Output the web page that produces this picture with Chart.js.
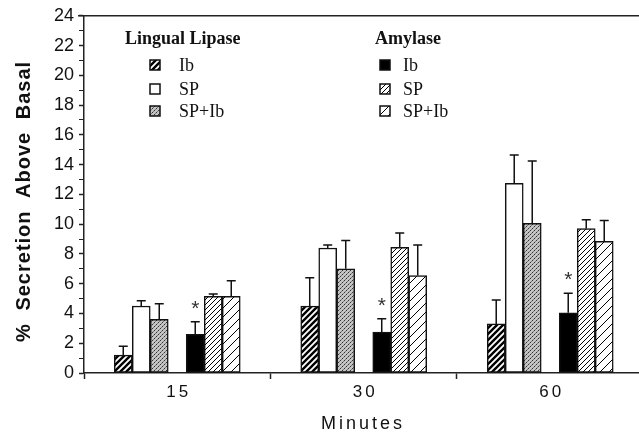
<!DOCTYPE html>
<html>
<head>
<meta charset="utf-8">
<script src="https://cdn.jsdelivr.net/npm/chart.js@4"></script>
<style>
  html, body { margin: 0; padding: 0; background: #fff; }
  canvas { display: block; }
</style>
</head>
<body>
<canvas id="chart" width="639" height="435"></canvas>
<script>
// categories (x) and series
const minutes = ['15', '30', '60'];

const lipaseIb = [1.2, 4.5, 3.3];
const lipaseIbErr = [0.6, 1.9, 1.6];
const lipaseSP = [4.5, 8.4, 12.75];
const lipaseSPErr = [0.35, 0.2, 1.9];
const lipaseSPIb = [3.6, 7.0, 10.05];
const lipaseSPIbErr = [1.05, 1.9, 4.2];

const amylaseIb = [2.6, 2.75, 4.05];
const amylaseIbErr = [0.85, 0.9, 1.3];
const amylaseIbStar = [true, true, true];
const amylaseSP = [5.15, 8.45, 9.7];
const amylaseSPErr = [0.15, 0.95, 0.6];
const amylaseSPIb = [5.15, 6.55, 8.85];
const amylaseSPIbErr = [1.05, 2.05, 1.4];

const yMin = 0, yMax = 24;
const xTitle = 'Minutes';
const yTitle = '% Secretion Above Basal';

const canvas = document.getElementById('chart');
const ctx = canvas.getContext('2d');
const sans = '"Liberation Sans", Arial, sans-serif';
const serif = '"Liberation Serif", "Times New Roman", serif';

// fill patterns
function hatch(size, width) {
  const c = document.createElement('canvas');
  c.width = c.height = size;
  const g = c.getContext('2d');
  g.fillStyle = '#fff';
  g.fillRect(0, 0, size, size);
  g.strokeStyle = '#000';
  g.lineWidth = width;
  g.beginPath();
  g.moveTo(0, size); g.lineTo(size, 0);
  g.moveTo(-size / 2, size / 2); g.lineTo(size / 2, -size / 2);
  g.moveTo(size / 2, size * 1.5); g.lineTo(size * 1.5, size / 2);
  g.stroke();
  return ctx.createPattern(c, 'repeat');
}

function stipple() {
  const c = document.createElement('canvas');
  c.width = c.height = 4;
  const g = c.getContext('2d');
  g.fillStyle = '#c4c4c4';
  g.fillRect(0, 0, 4, 4);
  g.fillStyle = '#333';
  g.fillRect(0, 0, 1, 1);
  g.fillRect(2, 2, 1, 1);
  g.fillStyle = '#7a7a7a';
  g.fillRect(1, 3, 1, 1);
  g.fillRect(3, 1, 1, 1);
  return ctx.createPattern(c, 'repeat');
}

function series(label, group, values, errors, fill, stars) {
  return {
    label: label,
    group: group,
    data: values.map((v, i) => ({ x: i, y: v })),
    errors: errors,
    stars: stars,
    backgroundColor: fill,
    borderColor: '#111',
    borderWidth: 1.5,
    borderSkipped: false,
    barThickness: 18
  };
}

const datasets = [
  series('Ib', 'Lingual Lipase', lipaseIb, lipaseIbErr, hatch(6, 2.4)),
  series('SP', 'Lingual Lipase', lipaseSP, lipaseSPErr, '#fff'),
  series('SP+Ib', 'Lingual Lipase', lipaseSPIb, lipaseSPIbErr, stipple()),
  { label: '', data: minutes.map((m, i) => ({ x: i, y: null })), barThickness: 18 },
  series('Ib', 'Amylase', amylaseIb, amylaseIbErr, '#000', amylaseIbStar),
  series('SP', 'Amylase', amylaseSP, amylaseSPErr, hatch(5, 1)),
  series('SP+Ib', 'Amylase', amylaseSPIb, amylaseSPIbErr, hatch(9, 1))
];

const extras = {
  id: 'extras',
  afterDatasetsDraw(chart) {
    const c = chart.ctx;
    const y = chart.scales.y;
    c.save();
    c.strokeStyle = '#111';
    c.lineWidth = 1.5;
    chart.data.datasets.forEach((ds, i) => {
      if (!ds.errors) return;
      chart.getDatasetMeta(i).data.forEach((bar, j) => {
        const top = y.getPixelForValue(ds.data[j].y + ds.errors[j]);
        c.beginPath();
        c.moveTo(bar.x, bar.y);
        c.lineTo(bar.x, top);
        c.moveTo(bar.x - 4.5, top);
        c.lineTo(bar.x + 4.5, top);
        c.stroke();
        if (ds.stars && ds.stars[j]) {
          c.fillStyle = '#333';
          c.font = '21px ' + sans;
          c.textAlign = 'center';
          c.textBaseline = 'alphabetic';
          c.fillText('*', bar.x, top - 7);
        }
      });
    });
    c.restore();
  },
  afterDraw(chart) {
    const c = chart.ctx;
    const area = chart.chartArea;
    const xs = chart.scales.x;
    c.save();
    c.strokeStyle = '#222';
    c.lineWidth = 1.5;
    c.beginPath();
    c.moveTo(area.left - 6, area.top);
    c.lineTo(chart.width, area.top);
    c.stroke();

    // spaced category labels and axis titles
    c.fillStyle = '#111';
    c.textAlign = 'center';
    c.letterSpacing = '3px';
    c.textBaseline = 'top';
    c.font = '17px ' + sans;
    minutes.forEach((m, i) => c.fillText(m, xs.getPixelForValue(i) + 1.5, area.bottom + 11));
    c.textBaseline = 'middle';
    c.font = '18px ' + sans;
    c.fillText(xTitle, (area.left + area.right) / 2 + 1.5, 424);

    c.save();
    c.translate(24, (area.top + area.bottom) / 2 + 7);
    c.rotate(-Math.PI / 2);
    c.letterSpacing = '1px';
    c.wordSpacing = '6px';
    c.font = 'bold 20px ' + sans;
    c.fillText(yTitle, 0, 0);
    c.restore();
    c.letterSpacing = '0px';

    // two-column legend with group headers
    const cols = [
      { group: 'Lingual Lipase', x: 125, box: 150, text: 179 },
      { group: 'Amylase', x: 375, box: 380, text: 403 }
    ];
    const rows = [65, 89, 111];
    cols.forEach(col => {
      c.fillStyle = '#111';
      c.textAlign = 'left';
      c.textBaseline = 'middle';
      c.font = 'bold 18px ' + serif;
      c.fillText(col.group, col.x, 39);
      c.font = '18px ' + serif;
      chart.data.datasets.filter(ds => ds.group === col.group).forEach((ds, k) => {
        const yy = rows[k];
        c.fillStyle = ds.backgroundColor;
        c.fillRect(col.box, yy - 5, 10, 10);
        c.strokeStyle = '#111';
        c.lineWidth = 1.5;
        c.strokeRect(col.box, yy - 5, 10, 10);
        c.fillStyle = '#111';
        c.fillText(ds.label, col.text, yy + 1);
      });
    });
    c.restore();
  }
};

new Chart(ctx, {
  type: 'bar',
  data: { datasets: datasets },
  plugins: [extras],
  options: {
    responsive: false,
    devicePixelRatio: 1,
    animation: false,
    layout: { padding: { top: 15, right: 0, bottom: 0, left: 0 } },
    plugins: { legend: { display: false }, tooltip: { enabled: false } },
    scales: {
      x: {
        type: 'linear',
        min: -0.5,
        max: 2.476,
        offset: false,
        z: 1,
        afterBuildTicks: scale => {
          scale.ticks = minutes.flatMap((m, i) => [{ value: i - 0.5 }, { value: i }]);
        },
        afterFit: scale => { scale.height = 62; },
        ticks: { display: false },
        grid: {
          offset: false,
          drawOnChartArea: false,
          tickLength: 6,
          tickWidth: 1.5,
          tickColor: c => Number.isInteger(c.tick.value) ? 'rgba(0,0,0,0)' : '#222'
        },
        border: { color: '#222', width: 1.5 }
      },
      y: {
        min: yMin,
        max: yMax,
        z: 1,
        afterFit: scale => { scale.width = 84; },
        ticks: {
          stepSize: 1,
          autoSkip: false,
          padding: 5,
          color: '#111',
          font: { family: sans, size: 18 },
          callback: v => v % 2 === 0 ? v : ''
        },
        grid: {
          drawOnChartArea: false,
          tickLength: 5,
          tickColor: '#222',
          tickWidth: c => c.tick.value % 2 ? 1 : 1.5
        },
        border: { color: '#222', width: 1.5 }
      }
    }
  }
});
</script>
</body>
</html>
